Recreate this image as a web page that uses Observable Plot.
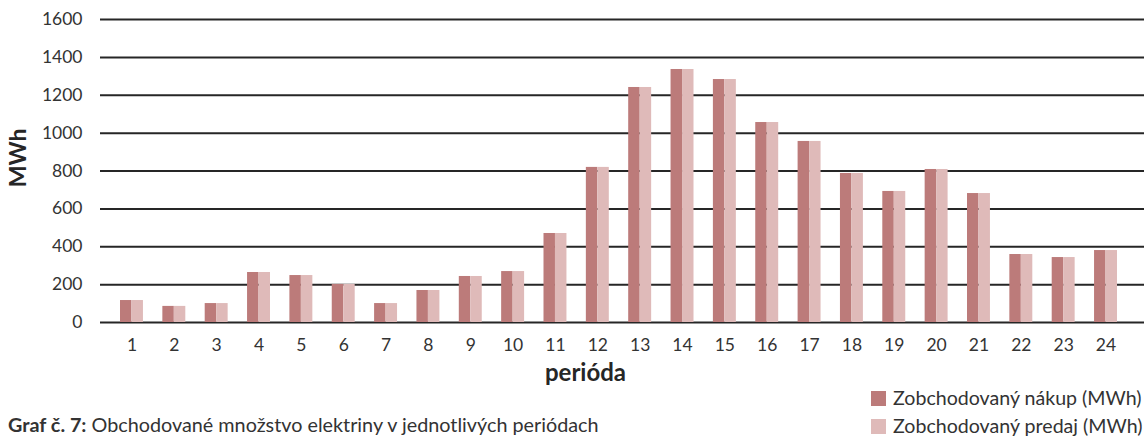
<!DOCTYPE html>
<html>
<head>
<meta charset="utf-8">
<script src="https://cdn.jsdelivr.net/npm/d3@7"></script>
<script src="https://cdn.jsdelivr.net/npm/@observablehq/plot@0.6"></script>
<style>
  html, body { margin: 0; padding: 0; background: #fff; }
  #wrap { position: relative; width: 1146px; height: 437px; font-family: Lato, "Open Sans", sans-serif; color: #333; }
  #caption { position: absolute; left: 8px; top: 413px; font-size: 19.8px; line-height: 22px; white-space: nowrap; }
  #caption b { font-weight: bold; }
  .leg { position: absolute; left: 871px; font-size: 19.6px; line-height: 22px; white-space: nowrap; display: flex; align-items: center; }
  .sw { display: inline-block; width: 15px; height: 15px; margin-right: 7px; }
</style>
</head>
<body>
<div id="wrap">
  <div id="chart"></div>
  <div id="caption"></div>
  <div id="legend"></div>
</div>
<script>
const periods = ["1","2","3","4","5","6","7","8","9","10","11","12","13","14","15","16","17","18","19","20","21","22","23","24"];
const nakup  = [116, 85, 100, 264, 248, 201, 100, 169, 243, 269, 470, 819, 1241, 1336, 1283, 1056, 956, 787, 692, 808, 681, 359, 343, 380];
const predaj = [116, 85, 100, 264, 248, 201, 100, 169, 243, 269, 470, 819, 1241, 1336, 1283, 1056, 956, 787, 692, 808, 681, 359, 343, 380];
const seriesNames = ["Zobchodovaný nákup (MWh)", "Zobchodovaný predaj (MWh)"];
const seriesColors = ["#bc7b7a", "#dfbab9"];
const yTicks = [0, 200, 400, 600, 800, 1000, 1200, 1400, 1600];
const yLabel = "MWh";
const xLabel = "perióda";
const captionBold = "Graf č. 7:";
const captionText = " Obchodované množstvo elektriny v jednotlivých periódach";

const rowsA = periods.map((p, i) => ({period: p, series: seriesNames[0], value: nakup[i]}));
const rowsB = periods.map((p, i) => ({period: p, series: seriesNames[1], value: predaj[i]}));

const chart = Plot.plot({
  width: 1146,
  height: 390,
  marginTop: 19,
  marginBottom: 68,
  marginLeft: 100,
  marginRight: 2,
  style: {fontFamily: "Lato, 'Open Sans', sans-serif", fontSize: "17.5px", color: "#333", background: "#fff"},
  x: {domain: periods, range: [110.3, 1126.7], padding: 0, round: false, label: null},
  y: {domain: [0, 1600], label: null},
  color: {domain: seriesNames, range: seriesColors},
  marks: [
    Plot.ruleY(yTicks, {stroke: "#262626", strokeWidth: 2}),
    Plot.barY(rowsA, {x: "period", y: "value", fill: "series", insetLeft: 9.7, insetRight: 21.2}),
    Plot.barY(rowsB, {x: "period", y: "value", fill: "series", insetLeft: 21.2, insetRight: 9.7}),
    Plot.axisY({ticks: yTicks, tickFormat: d => String(d), tickSize: 0, tickPadding: 18, label: null}),
    Plot.axisX({tickSize: 0, tickPadding: 16, label: null}),
    Plot.text([yLabel], {frameAnchor: "left", textAnchor: "middle", dx: -82, dy: -13, rotate: -90, fontWeight: "bold", fontSize: 23, fill: "#262626"}),
    Plot.text([xLabel], {frameAnchor: "bottom", textAnchor: "middle", dx: -37, dy: 58, fontWeight: "bold", fontSize: 24, fill: "#262626"})
  ]
});
document.getElementById("chart").appendChild(chart);

const cap = document.getElementById("caption");
const b = document.createElement("b"); b.textContent = captionBold;
cap.appendChild(b);
cap.appendChild(document.createTextNode(captionText));

const legend = document.getElementById("legend");
seriesNames.forEach((name, i) => {
  const row = document.createElement("div");
  row.className = "leg";
  row.style.top = (387 + i * 28) + "px";
  const sw = document.createElement("span");
  sw.className = "sw";
  sw.style.background = seriesColors[i];
  row.appendChild(sw);
  row.appendChild(document.createTextNode(name));
  legend.appendChild(row);
});
</script>
</body>
</html>
